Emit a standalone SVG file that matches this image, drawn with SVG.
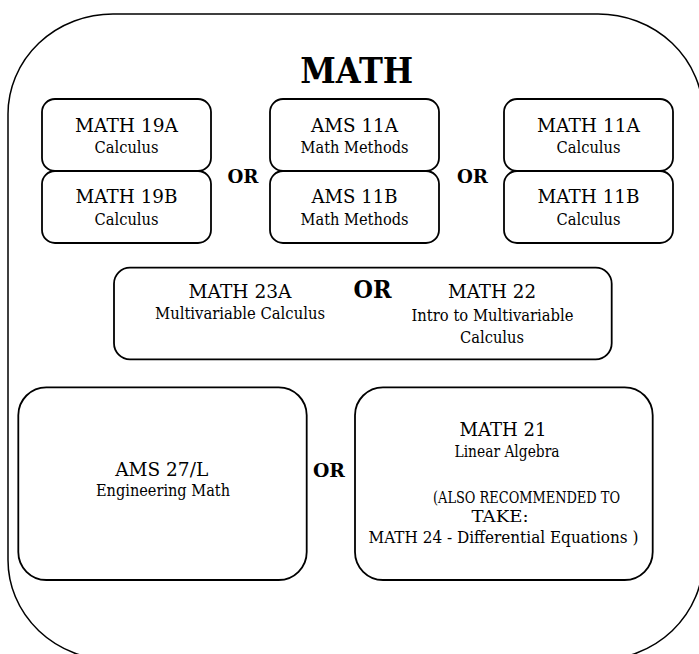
<svg xmlns="http://www.w3.org/2000/svg" width="699" height="654" viewBox="0 0 699 654">
<style>
  text { font-family: "DejaVu Serif", "Liberation Serif", serif; fill: #000; text-anchor: middle; }
  .box { fill: #fff; stroke: #000; stroke-width: 1.8; }
  .outer { fill: #fff; stroke: #000; stroke-width: 1.5; }
  .t { font-size: 18px; }
  .s { font-size: 16px; }
  .or { font-size: 19px; font-weight: bold; }
</style>
<rect width="699" height="654" fill="#fff"/>
<g id="container">
  <rect class="outer" x="8" y="14" width="695" height="646" rx="105" ry="100"/>
  <text x="356.7" y="82.7" font-size="35" font-weight="bold" textLength="113" lengthAdjust="spacingAndGlyphs">MATH</text>
</g>
<g id="connectors"></g>
<g id="math19a">
  <rect class="box" x="42" y="99" width="169" height="72" rx="13"/>
  <text class="t" x="126.5" y="131.7" textLength="103" lengthAdjust="spacingAndGlyphs">MATH 19A</text>
  <text class="s" x="126.5" y="153.3" textLength="64" lengthAdjust="spacingAndGlyphs">Calculus</text>
</g>
<g id="math19b">
  <rect class="box" x="42" y="171" width="169" height="72" rx="13"/>
  <text class="t" x="126.5" y="203.3" textLength="102" lengthAdjust="spacingAndGlyphs">MATH 19B</text>
  <text class="s" x="126.5" y="225" textLength="64" lengthAdjust="spacingAndGlyphs">Calculus</text>
</g>
<g id="or1"><text class="or" x="243" y="183" textLength="31" lengthAdjust="spacingAndGlyphs">OR</text></g>
<g id="ams11a">
  <rect class="box" x="270" y="99" width="169" height="72" rx="13"/>
  <text class="t" x="354.5" y="131.7" textLength="87" lengthAdjust="spacingAndGlyphs">AMS 11A</text>
  <text class="s" x="354.5" y="153.3" textLength="108" lengthAdjust="spacingAndGlyphs">Math Methods</text>
</g>
<g id="ams11b">
  <rect class="box" x="270" y="171" width="169" height="72" rx="13"/>
  <text class="t" x="354.5" y="203.3" textLength="86" lengthAdjust="spacingAndGlyphs">AMS 11B</text>
  <text class="s" x="354.5" y="225" textLength="108" lengthAdjust="spacingAndGlyphs">Math Methods</text>
</g>
<g id="or2"><text class="or" x="472.5" y="183" textLength="31" lengthAdjust="spacingAndGlyphs">OR</text></g>
<g id="math11a">
  <rect class="box" x="504" y="99" width="169" height="72" rx="13"/>
  <text class="t" x="588.5" y="131.7" textLength="103" lengthAdjust="spacingAndGlyphs">MATH 11A</text>
  <text class="s" x="588.5" y="153.3" textLength="64" lengthAdjust="spacingAndGlyphs">Calculus</text>
</g>
<g id="math11b">
  <rect class="box" x="504" y="171" width="169" height="72" rx="13"/>
  <text class="t" x="588.5" y="203.3" textLength="102" lengthAdjust="spacingAndGlyphs">MATH 11B</text>
  <text class="s" x="588.5" y="225" textLength="64" lengthAdjust="spacingAndGlyphs">Calculus</text>
</g>
<g id="math23a-22">
  <rect class="box" x="114" y="267.7" width="497.7" height="91.6" rx="16"/>
  <text class="t" x="240" y="297.5" textLength="103" lengthAdjust="spacingAndGlyphs">MATH 23A</text>
  <text class="s" x="240" y="319.3" textLength="170" lengthAdjust="spacingAndGlyphs">Multivariable Calculus</text>
  <text x="372.5" y="298.3" font-size="24" font-weight="bold" textLength="38" lengthAdjust="spacingAndGlyphs">OR</text>
  <text class="t" x="492" y="298" textLength="88" lengthAdjust="spacingAndGlyphs">MATH 22</text>
  <text class="s" x="492.5" y="320.7" textLength="162" lengthAdjust="spacingAndGlyphs">Intro to Multivariable</text>
  <text class="s" x="492" y="342.7" textLength="64" lengthAdjust="spacingAndGlyphs">Calculus</text>
</g>
<g id="ams27l">
  <rect class="box" x="18.3" y="387.3" width="288.4" height="192.7" rx="28"/>
  <text class="t" x="161.7" y="476" textLength="93" lengthAdjust="spacingAndGlyphs">AMS 27/L</text>
  <text class="s" x="163" y="496" textLength="134" lengthAdjust="spacingAndGlyphs">Engineering Math</text>
</g>
<g id="or3"><text class="or" x="329" y="476.5" textLength="32" lengthAdjust="spacingAndGlyphs">OR</text></g>
<g id="math21">
  <rect class="box" x="355" y="387.3" width="297.7" height="192.7" rx="28"/>
  <text class="t" x="503" y="435.7" textLength="87" lengthAdjust="spacingAndGlyphs">MATH 21</text>
  <text class="s" x="507" y="456.5" textLength="105" lengthAdjust="spacingAndGlyphs">Linear Algebra</text>
  <text class="s" x="526.5" y="502.7" textLength="187" lengthAdjust="spacingAndGlyphs">(ALSO RECOMMENDED TO</text>
  <text class="s" x="500" y="521.7" textLength="57" lengthAdjust="spacingAndGlyphs">TAKE:</text>
  <text class="s" x="503.5" y="542.7" textLength="270" lengthAdjust="spacingAndGlyphs">MATH 24 - Differential Equations )</text>
</g>
</svg>
